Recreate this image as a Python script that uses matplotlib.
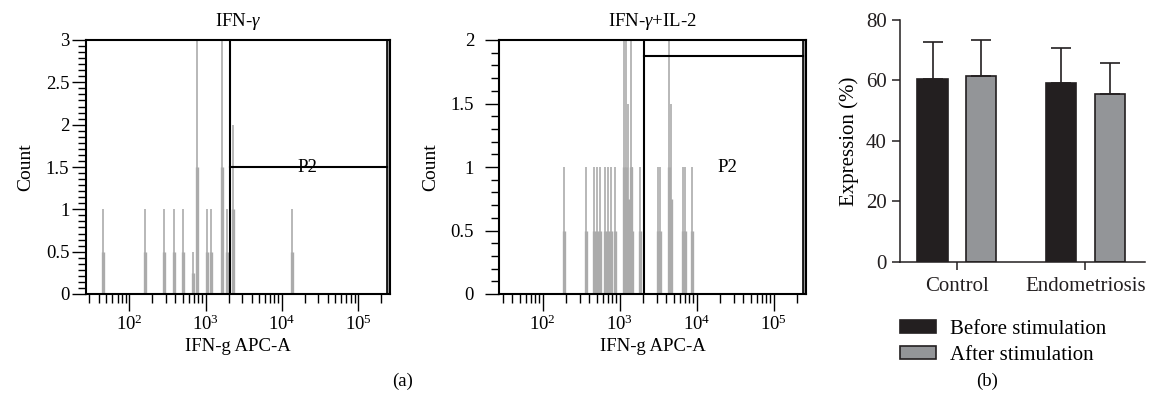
import matplotlib
matplotlib.use('Agg')
import matplotlib.pyplot as plt
from matplotlib.ticker import LogLocator, MultipleLocator, NullFormatter, FuncFormatter
import numpy as np

plt.rcParams['font.family'] = 'Liberation Serif'
plt.rcParams['mathtext.fontset'] = 'custom'
plt.rcParams['mathtext.rm'] = 'Liberation Serif'
plt.rcParams['mathtext.it'] = 'Liberation Serif:italic'

# flow histograms: event position on APC-A and count at that channel
ifn_pos = [44.7, 158.5, 287, 388, 505, 677, 769, 1040, 1184, 1663, 1900, 2318, 13490]
ifn_cnt = [1, 1, 1, 1, 1, 0.5, 3, 1, 1, 3, 1, 2, 1]

il2_pos = [186, 367, 467, 503, 547, 650, 700, 771, 865, 1125, 1219, 1276, 1389, 1462,
           1858, 3125, 3337, 4345, 4575, 6700, 7075, 8770]
il2_cnt = [1, 1, 1, 1, 1, 1, 1, 1, 1, 2, 2, 1.5, 2, 1,
           1, 1, 1, 2, 1.5, 1, 1, 1]

# P2 gates (left edge, level)
gate_ifn = (2100, 1.5)
gate_il2 = (2050, 1.875)
gate_right = 240000

# bar chart
groups = ['Control', 'Endometriosis']
before = [60.6, 59.2]
before_sd = [12.0, 11.6]
after = [61.5, 55.4]
after_sd = [12.0, 10.3]

hist_gray = '#ababab'
dark = '#231f20'
mid_gray = '#939598'
fs_a = 13.5
fs_b = 15

fig = plt.figure(figsize=(11.52, 4.09), dpi=100)
ax1 = fig.add_axes([86 / 1152, 115 / 409, 304 / 1152, 254 / 409])
ax2 = fig.add_axes([499 / 1152, 115 / 409, 307 / 1152, 254 / 409])
ax3 = fig.add_axes([900 / 1152, 147.3 / 409, 245 / 1152, 241.7 / 409])


def flow_hist(ax, pos, cnt, gate, ymax, ystep, title, p2_xy, ypad):
    pos = np.array(pos)
    cnt = np.array(cnt)
    ax.vlines(pos, 0, cnt / 2, color=hist_gray, lw=2.4)
    ax.vlines(pos, 0, cnt, color=hist_gray, lw=1.2)
    ax.set_xscale('log')
    ax.set_xlim(27, 262144)
    ax.set_ylim(0, ymax)
    # gate
    ax.axvspan(gate_right, 262144, color='#9a9a9a', lw=0)
    ax.axvline(gate_right, color='k', lw=1.2)
    ax.axvline(gate[0], color='k', lw=1.5)
    ax.plot([gate[0], gate_right], [gate[1], gate[1]], color='k', lw=1.5)
    ax.text(p2_xy[0], p2_xy[1], 'P2', ha='center', va='center', fontsize=fs_a)
    ax.xaxis.set_major_locator(LogLocator(base=10))
    ax.xaxis.set_minor_locator(LogLocator(base=10, subs=np.arange(2, 10)))
    ax.xaxis.set_minor_formatter(NullFormatter())
    ax.yaxis.set_major_locator(MultipleLocator(0.5))
    ax.yaxis.set_minor_locator(MultipleLocator(ystep))
    ax.yaxis.set_major_formatter(FuncFormatter(lambda v, p: '{:g}'.format(v)))
    ax.tick_params(axis='x', which='major', length=12.5, width=1, labelsize=fs_a, pad=2)
    ax.tick_params(axis='x', which='minor', length=6.5, width=1)
    ax.tick_params(axis='y', which='major', length=10, width=1, labelsize=fs_a, pad=ypad)
    ax.tick_params(axis='y', which='minor', length=6, width=1)
    for s in ax.spines.values():
        s.set_linewidth(1.5)
    ax.set_title(title, fontsize=fs_a, pad=10)
    ax.set_xlabel('IFN-g APC-A', fontsize=fs_a, labelpad=3)
    ax.set_ylabel('Count', fontsize=14, labelpad=8)


flow_hist(ax1, ifn_pos, ifn_cnt, gate_ifn, 3, 0.5 / 7, 'IFN-$\\gamma$', (21400, 1.5), 2)
flow_hist(ax2, il2_pos, il2_cnt, gate_il2, 2, 0.1, 'IFN-$\\gamma$+IL-2', (25100, 1.0), 8)

x = np.arange(len(groups))
w = 0.235
off = 0.1875
ax3.bar(x - off, before, w, color=dark, edgecolor=dark, lw=1.2, label='Before stimulation',
        yerr=[np.zeros(len(before)), before_sd], capsize=7,
        error_kw=dict(ecolor=dark, elinewidth=1.2, capthick=1.2))
ax3.bar(x + off, after, w, color=mid_gray, edgecolor=dark, lw=1.2, label='After stimulation',
        yerr=[np.zeros(len(after)), after_sd], capsize=7,
        error_kw=dict(ecolor=dark, elinewidth=1.2, capthick=1.2))
ax3.set_xlim(-0.44, 1.462)
ax3.set_ylim(0, 80)
ax3.set_yticks([0, 20, 40, 60, 80])
ax3.set_xticks(x)
ax3.set_xticklabels(groups)
ax3.tick_params(axis='both', length=6, width=1.1, labelsize=fs_b, colors=dark)
ax3.tick_params(axis='x', pad=5)
ax3.spines['top'].set_visible(False)
ax3.spines['right'].set_visible(False)
for s in ['left', 'bottom']:
    ax3.spines[s].set_linewidth(1.1)
    ax3.spines[s].set_color(dark)
ax3.set_ylabel('Expression (%)', fontsize=fs_b, labelpad=5)
ax3.legend(loc='upper left', bbox_to_anchor=(900 / 1152, 1 - 320 / 409),
           bbox_transform=fig.transFigure, frameon=False, fontsize=fs_b,
           borderpad=0, borderaxespad=0, handlelength=1.75, handleheight=0.58,
           handletextpad=0.65, labelspacing=0.35)

fig.text(403 / 1152, 1 - 381 / 409, '(a)', ha='center', va='center', fontsize=fs_a)
fig.text(987 / 1152, 1 - 381 / 409, '(b)', ha='center', va='center', fontsize=fs_a)

fig.savefig('out.png', dpi=100)
